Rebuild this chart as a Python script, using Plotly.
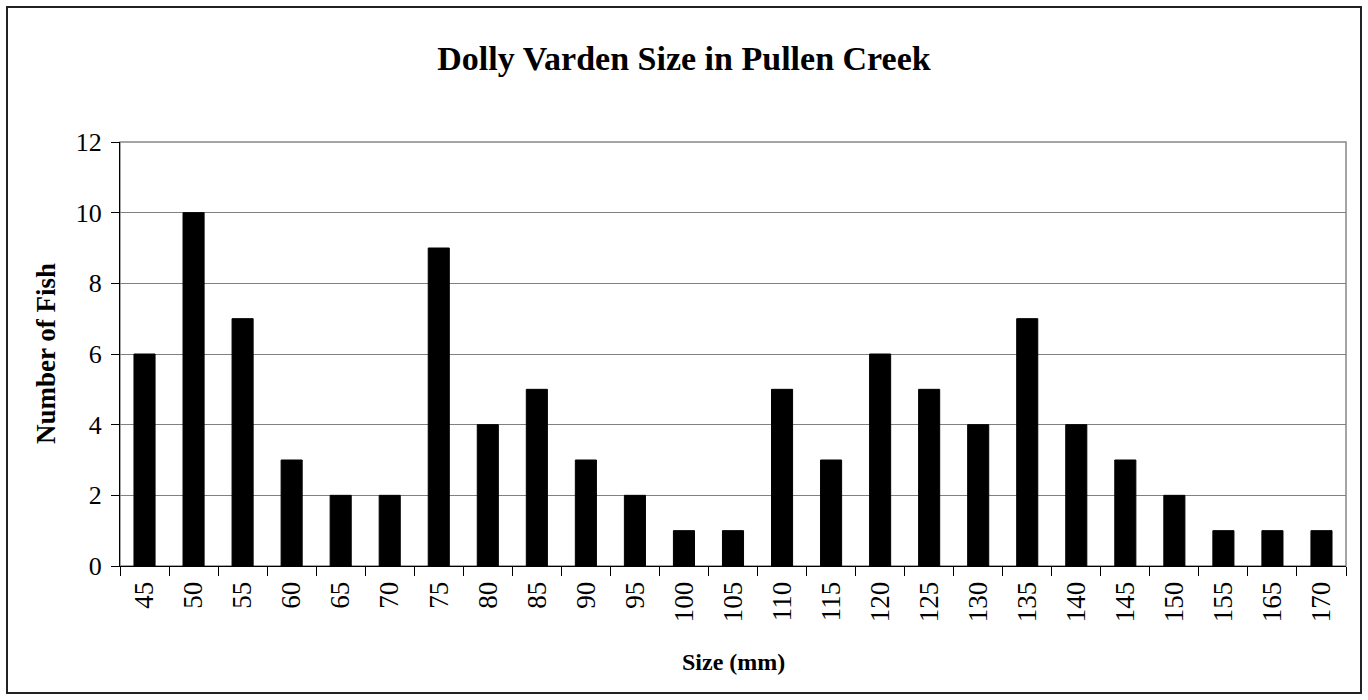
import plotly.graph_objects as go

sizes = ["45", "50", "55", "60", "65", "70", "75", "80", "85", "90", "95", "100", "105",
         "110", "115", "120", "125", "130", "135", "140", "145", "150", "155", "165", "170"]
counts = [6, 10, 7, 3, 2, 2, 9, 4, 5, 3, 2, 1, 1, 5, 3, 6, 5, 4, 7, 4, 3, 2, 1, 1, 1]
y_ticks = [0, 2, 4, 6, 8, 10, 12]

title_text = "Dolly Varden Size in Pullen Creek"
x_title = "Size (mm)"
y_title = "Number of Fish"

W, H = 1368, 700
L, R, T, B = 120, 22, 142, 134
pw, ph = W - L - R, H - T - B

def px_x(x):
    return (x - L) / pw

def px_y(y):
    return (H - B - y) / ph

font = "Liberation Serif, Times New Roman, serif"

fig = go.Figure()
fig.add_trace(go.Bar(x=sizes, y=counts, marker=dict(color="black", line=dict(color="black", width=1))))

fig.update_layout(
    width=W, height=H,
    margin=dict(l=L, r=R, t=T, b=B),
    paper_bgcolor="white", plot_bgcolor="white",
    bargap=0.57,
    showlegend=False,
    font=dict(family=font, color="black"),
    title=dict(text="<b>" + title_text + "</b>", x=0.5, xref="container", xanchor="center",
               y=1 - 58 / H, yref="container", yanchor="middle",
               font=dict(family=font, size=34, color="black")),
)

fig.update_xaxes(
    type="category", tickangle=-90, tickfont=dict(family=font, size=27, color="black"),
    ticks="outside", tickson="boundaries", ticklen=9, tickcolor="black", tickwidth=1,
    showline=True, linecolor="black", linewidth=1, showgrid=False, zeroline=False,
    ticklabelstandoff=4,
)
fig.update_yaxes(
    range=[0, 12], tickvals=y_ticks, tickfont=dict(family=font, size=26, color="black"),
    ticks="outside", ticklen=8, tickcolor="black", tickwidth=1,
    showline=True, linecolor="black", linewidth=1,
    showgrid=True, gridcolor="#808080", gridwidth=1, zeroline=False,
    ticklabelstandoff=4,
)

# plot-area border (gray)
fig.add_shape(type="rect", xref="paper", yref="paper", x0=0, y0=0, x1=1, y1=1,
              line=dict(color="#888888", width=1.5), layer="below")
# outer chart border
fig.add_shape(type="rect", xref="paper", yref="paper",
              x0=px_x(7), x1=px_x(1361), y0=px_y(693), y1=px_y(7),
              line=dict(color="#222222", width=2))

fig.add_annotation(text="<b>" + x_title + "</b>", xref="paper", yref="paper",
                   x=0.5, y=px_y(662), xanchor="center", yanchor="middle", showarrow=False,
                   font=dict(family=font, size=24, color="black"))
fig.add_annotation(text="<b>" + y_title + "</b>", xref="paper", yref="paper",
                   x=px_x(46), y=0.5, xanchor="center", yanchor="middle", showarrow=False,
                   textangle=-90, font=dict(family=font, size=27, color="black"))

fig.write_html("out.html", config={"displayModeBar": False},
               post_script="document.body.style.margin='0';document.body.style.overflow='hidden';")
